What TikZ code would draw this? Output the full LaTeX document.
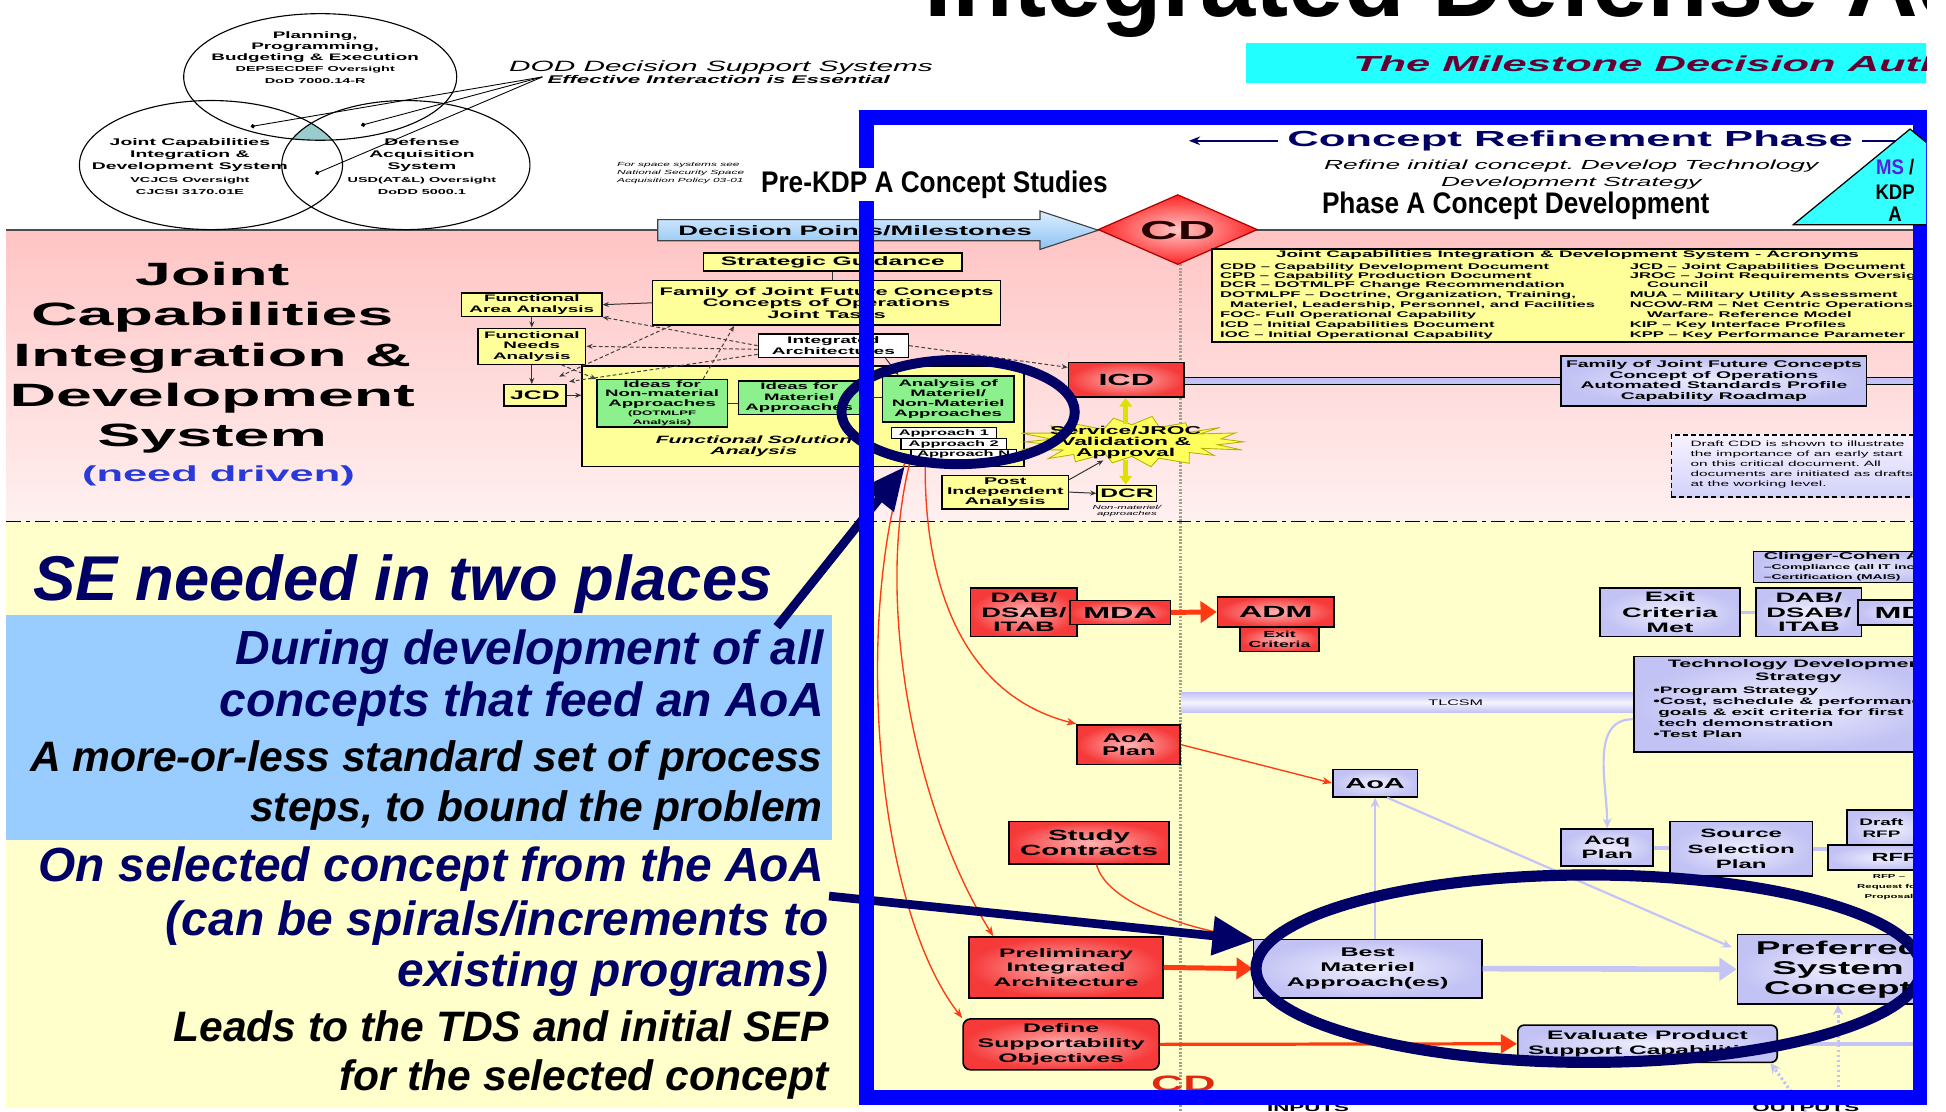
\documentclass[tikz,border=0pt]{standalone}
\usepackage{fontspec}
\setmainfont{Liberation Sans}
\newfontfamily\widefont[FakeStretch=2.0]{Liberation Sans}
\newfontfamily\narrowfont[FakeStretch=0.88]{Liberation Sans}
\usetikzlibrary{arrows.meta,calc}
\newcommand\fz[2]{\fontsize{#1}{#2}\selectfont}

\definecolor{navy}{HTML}{000066}
\definecolor{frameblue}{HTML}{0000FF}
\definecolor{pinktop}{HTML}{FFC4C4}
\definecolor{pinkbot}{HTML}{FFF0F0}
\definecolor{paleyel}{HTML}{FFFFCC}
\definecolor{skyb}{HTML}{99CCFF}
\definecolor{boxyel}{HTML}{FFFF99}
\definecolor{boxgrn}{HTML}{8CF08C}
\definecolor{redout}{HTML}{F63A3A}
\definecolor{redin}{HTML}{FFB4B4}
\definecolor{lavout}{HTML}{C2C2F4}
\definecolor{lavin}{HTML}{EEEEFF}
\definecolor{lavline}{HTML}{C4C4F6}
\definecolor{arrred}{HTML}{FF3A12}
\definecolor{aqua}{HTML}{22FFFF}
\definecolor{kdpcyan}{HTML}{33FFFF}
\definecolor{maroon}{HTML}{660033}
\definecolor{needblue}{HTML}{2A3AD8}
\definecolor{msblue}{HTML}{5522DD}
\definecolor{tealcap}{HTML}{99CCCC}
\definecolor{cdgray}{HTML}{A0A08C}
\definecolor{dptop}{HTML}{DCEEFF}
\definecolor{dpbot}{HTML}{8CC2F2}
\definecolor{cdin}{HTML}{FFC8C8}
\definecolor{cdout}{HTML}{FF2424}
\definecolor{cdedge}{HTML}{B00000}
\definecolor{burstyel}{HTML}{FFFF5C}
\definecolor{burstedge}{HTML}{B4B400}
\definecolor{yelarr}{HTML}{E0E000}
\definecolor{notetop}{HTML}{F6F2FF}
\definecolor{notebot}{HTML}{D2D2FA}
\definecolor{cdred}{HTML}{E02A10}

\begin{document}
\begin{tikzpicture}[x=1pt,y=-1pt,
  sz/.style 2 args={font=\widefont\bfseries\fontsize{#1}{#2}\selectfont},
  szi/.style 2 args={font=\widefont\bfseries\itshape\fontsize{#1}{#2}\selectfont},
  szr/.style 2 args={font=\widefont\fontsize{#1}{#2}\selectfont},
  szri/.style 2 args={font=\widefont\itshape\fontsize{#1}{#2}\selectfont},
  lbl/.style={inner sep=0pt, align=center},
  plainbox/.style={draw=black, line width=1.3pt, inner sep=0pt, align=center},
  redbox/.style={plainbox, inner color=redin, outer color=redout},
  lavbox/.style={plainbox, inner color=lavin, outer color=lavout},
  yelbox/.style={plainbox, line width=1.1pt, fill=boxyel},
  grnbox/.style={plainbox, line width=1.1pt, fill=boxgrn},
  whtbox/.style={plainbox, line width=0.9pt, fill=white},
  jlink/.style={draw=black!80, line width=0.8pt},
  jdash/.style={draw=black!75, line width=0.8pt, dash pattern=on 3pt off 2pt},
  arr/.style={-{Stealth[length=5pt,width=4pt]}},
  vennln/.style={draw=black, line width=0.7pt, -{Circle[length=3.5pt]}},
  redthin/.style={draw=arrred, line width=1.1pt, -{Stealth[length=8pt,width=6pt]}},
  redthick/.style={draw=arrred, line width=4pt, -{Triangle[length=13pt,width=17pt]}},
  redmed/.style={draw=arrred, line width=2.6pt, -{Triangle[length=13pt,width=15pt]}},
  lavthick/.style={draw=lavline, line width=4.5pt, -{Triangle[length=14pt,width=18pt]}},
  lavthin/.style={draw=lavline, line width=1.8pt, -{Stealth[length=8pt,width=7pt]}},
  lavlink/.style={draw=lavline, line width=3pt},
  lavdot/.style={draw=lavline, line width=2.5pt, dash pattern=on 2pt off 2pt, -{Stealth[length=8pt,width=8pt]}},
  yelarrow/.style={draw=yelarr, line width=3.5pt, -{Triangle[length=7pt,width=10pt]}},
  navyarrow/.style={draw=navy, line width=7pt, -{Triangle[length=34pt,width=30pt]}},
  navyring/.style={draw=navy, line width=8pt},
  selin/.style={anchor=base east, inner sep=0pt, font=\bfseries\itshape},
  acr/.style={anchor=base west, inner sep=0pt, sz={6.7}{7.9}},
]
\useasboundingbox (0,0) rectangle (1568,896);
\fill[white] (0,0) rectangle (1568,896);

\begin{scope}
\clip (0,-100) rectangle (1552,900);

% ---------- background bands ----------
\shade[top color=pinktop, bottom color=pinkbot] (5,185.5) rectangle (1552,420);
\fill[paleyel] (5,420) rectangle (1552,884);
\fill[paleyel] (5,884) rectangle (692,893);
\draw[black!70, line width=1.5pt] (5,185.5) -- (1552,185.5);
\draw[black, line width=1.2pt, dash pattern=on 12pt off 4pt on 3pt off 4pt] (5,420) -- (1552,420);
\fill[skyb] (5,495.5) rectangle (670,677);
\draw[cdgray, line width=2.5pt, dash pattern=on 1.5pt off 1.2pt] (951,213) -- (951,896);

% ---------- heading ----------
\node[anchor=base west, inner sep=0pt, font=\bfseries\fontsize{80}{80}\selectfont] (title) at (745,13) {Integrated Defense Acquisition};
\fill[aqua] (1004,35) rectangle (1560,67);
\node[anchor=base west, inner sep=0pt, szi={17.5}{17.5}, text=maroon] (mdaban) at (1090,57.7) {The Milestone Decision Authority};

% ---------- decision support systems ----------
\begin{scope}
  \clip (258,62) ellipse [x radius=110, y radius=51];
  \clip (170,133) ellipse [x radius=106, y radius=52];
  \fill[tealcap] (327,133) ellipse [x radius=100, y radius=52];
\end{scope}
\draw[black, line width=0.9pt] (258,62) ellipse [x radius=110, y radius=51];
\draw[black, line width=0.9pt] (170,133) ellipse [x radius=106, y radius=52];
\draw[black, line width=0.9pt] (327,133) ellipse [x radius=100, y radius=52];
\node[lbl, sz={7.6}{9.1}, anchor=north] (vtop) at (254,25) {Planning,\\Programming,\\Budgeting \& Execution\\\fz{5.8}{9.1}DEPSECDEF Oversight\\\fz{5.8}{9.1}DoD 7000.14-R};
\node[lbl, sz={7.8}{10}, anchor=north] (vleft) at (153,111) {Joint Capabilities\\Integration \&\\Development System\\\fz{5.8}{10}VCJCS Oversight\\\fz{5.8}{10}CJCSI 3170.01E};
\node[lbl, sz={7.8}{10}, anchor=north] (vright) at (340,111) {Defense\\Acquisition\\System\\\fz{5.8}{10}USD(AT\&L) Oversight\\\fz{5.8}{10}DoDD 5000.1};
\node[anchor=base west, inner sep=0pt, szri={12}{12}] (dss) at (410,58) {DOD Decision Support Systems};
\node[anchor=base west, inner sep=0pt, szi={9}{9}] (eie) at (441,67) {Effective Interaction is Essential};
\coordinate (conv) at (437,62);
\coordinate (dot1) at (202,102);
\coordinate (dot2) at (291,101);
\coordinate (dot3) at (254,140);
\draw[vennln] (conv) -- (dot1);
\draw[vennln] (conv) -- (dot2);
\draw[vennln] (conv) -- (dot3);
\node[anchor=north west, inner sep=0pt, align=left, szri={4.8}{6.4}] (nss) at (497,131) {For space systems see\\National Security Space\\Acquisition Policy 03-01};

% ---------- milestones bar ----------
\shadedraw[top color=dptop, bottom color=dpbot, draw=black!75, line width=0.9pt]
  (530,177) -- (838,177) -- (838,170) -- (885,185.5) -- (838,201) -- (838,194) -- (530,194) -- cycle;
\node[lbl, sz={11}{11}] (dpm) at (689,186) {Decision Points/Milestones};
\shadedraw[inner color=cdin, outer color=cdout, draw=cdedge, line width=1pt]
  (885,185) -- (949,157) -- (1013,185) -- (949,213) -- cycle;
\node[lbl, sz={21}{21}, text=black!85!red] (cd) at (949,186) {CD};

% ---------- phase heading ----------
\node[anchor=base west, inner sep=0pt, sz={17.6}{18}, text=navy] (crp) at (1037,118) {Concept Refinement Phase};
\draw[navy, line width=1.3pt, -{Stealth[length=9pt,width=7pt]}] ($(crp.west)+(-7,0)$) -- ++(-72,0);
\draw[navy, line width=1.3pt, -{Stealth[length=9pt,width=7pt]}] ($(crp.east)+(7,0)$) -- ++(40,0);
\node[anchor=north, lbl, szri={10.6}{13.4}] (rtxt) at (1266,129) {Refine initial concept.\enspace Develop Technology\\Development Strategy};
\node[anchor=base west, inner sep=0pt, font=\narrowfont\bfseries\fontsize{24}{24}\selectfont] (phA) at (1065,172.4) {Phase A Concept Development};

% ---------- JCIDS band ----------
\node[lbl, sz={26}{32.5}, anchor=north] (jcids) at (171,211) {Joint\\Capabilities\\Integration \&\\Development\\System};
\node[lbl, sz={17.5}{17.5}, anchor=base, text=needblue] (need) at (176,388) {(need driven)};

\node[yelbox, sz={9.9}{10}, minimum width=208, minimum height=14.5] (sg) at (671,211) {Strategic Guidance};
\node[yelbox, sz={8.8}{9.1}, minimum width=280, minimum height=36] (fam) at (666,244) {Family of Joint Future Concepts\\Concepts of Operations\\Joint Tasks};
\node[yelbox, sz={7.6}{8.8}, minimum width=113, minimum height=19] (faa) at (428.5,245.5) {Functional\\Area Analysis};
\node[yelbox, sz={7.6}{8.4}, minimum width=87, minimum height=29] (fna) at (428.5,279) {Functional\\Needs\\Analysis};
\node[yelbox, sz={10}{10}, minimum width=50, minimum height=17] (jcd) at (431,318.5) {JCD};
\node[whtbox, sz={7.7}{8.6}, line width=1.1pt, minimum width=121, minimum height=19] (ia) at (671.5,278.5) {Integrated\\Architectures};
\node[yelbox, minimum width=356, minimum height=81] (fsa) at (647,335.5) {};
\node[lbl, szi={8.5}{9.2}, anchor=north] (fsal) at (607.5,351) {Functional\enspace Solution\\Analysis};
\node[grnbox, sz={7.5}{7.5}, minimum width=105, minimum height=38] (inm) at (533.5,325) {Ideas for\\Non-material\\Approaches\\\fz{5.3}{7.5}(DOTMLPF\\\fz{5.3}{7.5}Analysis)};
\node[grnbox, sz={7.5}{8.4}, minimum width=98, minimum height=27] (im) at (644,320.5) {Ideas for\\Materiel\\Approaches};
\node[grnbox, sz={7.5}{8.1}, minimum width=106, minimum height=37] (amn) at (764,321.5) {Analysis of\\Materiel/\\Non-Materiel\\Approaches};
\node[whtbox, sz={6.6}{6.6}, minimum width=85, minimum height=8.5] (ap1) at (760.5,349) {Approach 1};
\node[whtbox, sz={6.6}{6.6}, minimum width=85, minimum height=9] (ap2) at (768.5,358) {Approach 2};
\node[whtbox, sz={6.6}{6.6}, minimum width=85, minimum height=8.5] (apn) at (776.5,366.5) {Approach N};

\draw[jlink] (sg.south) -- (sg.south |- fam.north);
\draw[jlink, arr] (fam.west) -- (faa.east);
\draw[jlink, arr] (faa.south) -- (fna.north);
\draw[jlink, arr] (fna.south) -- (fna.south |- jcd.north);
\draw[jlink, arr] (jcd.east) -- (jcd.east -| fsa.west);
\draw[jdash, arr] (ia.west) -- (faa.south east);
\draw[jdash, arr] ($(ia.west)+(0,3)$) -- (fna.east);
\draw[jdash, arr] ($(fam.south west)+(15,0)$) -- ($(jcd.north east)+(-6,-6)$);
\draw[jdash, arr] ($(ia.south west)+(0,-3)$) -- ($(jcd.north east)+(2,-2)$);
\draw[jdash, arr] ($(inm.north)+(33,0)$) -- ($(fam.south west)+(66,0)$);
\draw[jdash, arr] ($(fna.south east)+(-20,0)$) -- (inm.north west);
\draw[jlink, arr] ($(ia.south)+(42,0)$) -- ($(amn.north)+(-40,0)$);
\draw[jlink] (inm.east) -- (inm.east -| im.west);
\draw[jlink] (im.east) -- (im.east -| amn.west);

% ---------- acronyms ----------
\node[draw=black, line width=1.2pt, fill=boxyel, minimum width=576, minimum height=75, anchor=north west, inner sep=0pt] (acro) at (976,200) {};
\node[lbl, sz={7.6}{7.6}, anchor=base] (acrot) at (1263,207.6) {Joint Capabilities Integration \& Development System - Acronyms};
\foreach \yy/\tx [count=\i] in {
  217.5/{CDD – Capability Development Document},
  224.5/{CPD – Capability Production Document},
  232/{DCR – DOTMLPF Change Recommendation},
  240/{DOTMLPF – Doctrine, Organization, Training,},
  248/{\hspace*{8pt}Materiel, Leadership, Personnel, and Facilities},
  256/{FOC- Full Operational Capability},
  263.7/{ICD – Initial Capabilities Document},
  271.8/{IOC – Initial Operational Capability}}
  { \node[acr] (acl\i) at (983,\yy) {\tx}; }
\foreach \yy/\tx [count=\i] in {
  217.5/{JCD – Joint Capabilities Document},
  224.5/{JROC – Joint Requirements Oversight},
  232/{\hspace*{14pt}Council},
  240/{MUA – Military Utility Assessment},
  248/{NCOW-RM – Net Centric Operations and},
  256/{\hspace*{14pt}Warfare- Reference Model},
  263.7/{KIP – Key Interface Profiles},
  271.8/{KPP – Key Performance Parameter}}
  { \node[acr] (acr\i) at (1313,\yy) {\tx}; }

% ---------- ICD row ----------
\draw[fill=lavout, draw=black, line width=0.8pt] (954,304) rectangle (1258,310);
\draw[fill=lavout, draw=black, line width=0.8pt] (1504,304) rectangle (1560,310);
\node[redbox, sz={13}{13}, minimum width=93, minimum height=28] (icd) at (907.5,306) {ICD};
\node[lavbox, sz={7.8}{8.8}, minimum width=246, minimum height=40] (fjfc) at (1381,307) {Family of Joint Future Concepts\\Concept of Operations\\Automated Standards Profile\\Capability Roadmap};
\draw[jdash, arr] (ia.east) -- ($(icd.west)+(0,-10)$);

\node[draw=black, line width=1pt, dash pattern=on 4pt off 2.5pt, top color=notetop, bottom color=notebot, minimum width=206, minimum height=50, anchor=north west, inner sep=0pt] (note) at (1346,350) {};
\foreach \yy/\tx [count=\i] in {
  359.8/{Draft CDD is shown to illustrate},
  368/{the importance of an early start},
  375.7/{on this critical document.\enspace All},
  383.8/{documents are initiated as drafts},
  391.8/{at the working level.}}
  { \node[anchor=base west, inner sep=0pt, szr={6.2}{6.2}] (nt\i) at (1362,\yy) {\tx}; }

% ---------- validation burst ----------
\foreach \k in {0,...,35} {
  \pgfmathsetmacro\rx{90-22*mod(\k,2)+5*sin(\k*97)}
  \pgfmathsetmacro\ry{19-7*mod(\k,2)+2*sin(\k*53)}
  \coordinate (bp\k) at ($(912,356)+({\k*10}:\rx pt and \ry pt)$);
}
\draw[fill=burstyel, draw=burstedge, line width=0.7pt] (bp0) \foreach \k in {1,...,35} { -- (bp\k) } -- cycle;
\node[lbl, sz={9.2}{9}] (burst) at (907,356.5) {Service/JROC\\Validation \&\\Approval};
\node[yelbox, sz={7.9}{8.3}, minimum width=102, minimum height=27] (post) at (810,396.5) {Post\\Independent\\Analysis};
\node[yelbox, sz={9.9}{10}, minimum width=48, minimum height=13] (dcr) at (908,397.5) {DCR};
\node[lbl, szri={4.6}{4.8}] (nma) at (908,411.5) {Non-materiel/\\approaches};
\draw[yelarrow] ($(burst.north)+(0,-1)$) -- (burst.north |- icd.south);
\draw[yelarrow] ($(burst.south)+(0,1)$) -- (burst.south |- dcr.north);
\draw[jlink, arr] (post.east) -- (dcr.west);
\coordinate (bsw) at (889,371);
\draw[jlink, arr] ($(post.north east)+(0,4)$) -- (bsw);

% ---------- concept refinement boxes ----------
\node[redbox, sz={11}{11.7}, minimum width=86, minimum height=39] (dabl) at (825,493.5) {DAB/\\DSAB/\\ITAB};
\node[redbox, sz={13}{13}, minimum width=81, minimum height=19.5] (mdal) at (902.5,493.5) {MDA};
\node[redbox, sz={7.1}{8}, minimum width=64, minimum height=20] (exitc) at (1031,515) {Exit\\Criteria};
\node[redbox, sz={13}{13}, minimum width=94, minimum height=24] (adm) at (1028,493) {ADM};
\node[redbox, sz={10.2}{10.7}, minimum width=83, minimum height=32] (aoaplan) at (909.5,600) {AoA\\Plan};
\node[lavbox, sz={11.7}{11.7}, minimum width=68, minimum height=22] (aoa) at (1108,631) {AoA};
\node[redbox, sz={11.9}{12.1}, minimum width=129, minimum height=34] (study) at (877.5,679) {Study\\Contracts};
\node[redbox, sz={9.9}{11.8}, minimum width=156, minimum height=49] (prelim) at (859,779.5) {Preliminary\\Integrated\\Architecture};
\node[redbox, sz={10}{12.3}, rounded corners=6pt, minimum width=158, minimum height=41] (dso) at (855,841.5) {Define\\Supportability\\Objectives};
\node[lavbox, sz={10.1}{12}, minimum width=184, minimum height=47] (bma) at (1102,780.5) {Best\\Materiel\\Approach(es)};
\node[lavbox, sz={14.9}{16.1}, minimum width=162, minimum height=56] (psc) at (1481,781) {Preferred\\System\\Concept};
\node[lavbox, sz={9.9}{11.6}, rounded corners=5pt, minimum width=209, minimum height=30] (epsc) at (1327.5,841) {Evaluate Product\\Support Capabilities};

\shade[top color=lavout, bottom color=lavout, middle color=lavin!60!white] (952,558) rectangle (1319,574);
\node[inner sep=0pt, szr={6.5}{6.5}] (tlcsm) at (1173,566) {TLCSM};
\node[lavbox, minimum width=245, minimum height=77] (tds) at (1439,567.5) {};
\node[lbl, sz={8.7}{10}, anchor=north] (tdst) at (1449,531.5) {Technology Development\\Strategy};
\node[lbl, sz={7.6}{8.9}, anchor=north west, align=left] (tdsb) at (1332,553.5) {•Program Strategy\\•Cost, schedule \& performance\\\hspace*{4pt}goals \& exit criteria for first\\\hspace*{4pt}tech demonstration\\•Test Plan};

\node[lavbox, sz={11}{12.5}, minimum width=113, minimum height=39] (ecm) at (1345.5,493.5) {Exit\\Criteria\\Met};
\node[lavbox, sz={11}{11.7}, minimum width=85, minimum height=39] (dabr) at (1457.5,493.5) {DAB/\\DSAB/\\ITAB};
\node[lavbox, sz={13}{13}, minimum width=86, minimum height=20] (mdar) at (1540,493.5) {MDA};
\draw[lavlink] (ecm.east) -- (dabr.west);
\node[lavbox, minimum width=154, minimum height=25] (cca) at (1490,457) {};
\node[lbl, sz={8}{8}, anchor=base west] (ccat) at (1421,451) {Clinger-Cohen Act};
\node[lbl, sz={5.6}{5.6}, anchor=base west] (cca1) at (1421,459) {–Compliance (all IT incl. NSS)};
\node[lbl, sz={5.6}{5.6}, anchor=base west] (cca2) at (1421,466.8) {–Certification (MAIS)};

\node[lavbox, sz={9.8}{11}, minimum width=74, minimum height=30] (acq) at (1295,683) {Acq\\Plan};
\node[lavbox, sz={9.7}{12.4}, minimum width=115, minimum height=44] (ssp) at (1403,684) {Source\\Selection\\Plan};
\node[lavbox, minimum width=72, minimum height=31] (drfp) at (1524,668) {};
\node[lbl, sz={7.6}{9.5}] (drfpt) at (1516,667) {Draft\\RFP};
\node[lavbox, minimum width=87, minimum height=20] (rfp) at (1516.5,691) {};
\node[lbl, sz={9.5}{9.5}] (rfpt) at (1527,691) {RFP};
\node[lbl, sz={4.6}{8}] (rfpn) at (1522,715) {RFP –\\Request for\\Proposal};
\draw[lavlink] (acq.east) -- (acq.east -| ssp.west);
\draw[lavlink] (ssp.east) -- (ssp.east -| rfp.west);

% ---------- connectors ----------
\draw[redthick] (mdal.east) -- (adm.west);
\draw[redthin] (aoaplan.east) -- (aoa.west);
\draw[redthick] (prelim.east) -- (bma.west);
\draw[redmed] (dso.east) -- (epsc.west);
\draw[redthin] ($(study.south)+(6,0)$) .. controls (892,728) and (955,748) .. (bma.north west);
\draw[redthin] ($(apn.south west)+(12,0)$) .. controls (744,470) and (775,560) .. (aoaplan.north west);
\draw[redthin] (apn.south west) .. controls (705,480) and (735,650) .. ($(prelim.north west)+(20,0)$);
\draw[redthin] ($(apn.south west)+(-4,0)$) .. controls (688,500) and (705,730) .. (dso.north west);

\draw[lavthick] (bma.east) -- (psc.west);
\draw[lavthin] (aoa.south |- bma.north) -- (aoa.south);
\draw[lavthin] ($(aoa.south east)+(-25,0)$) -- ($(psc.north west)+(-4,11)$);
\draw[lavthin] ($(tds.west)+(0,12)$) to[out=180,in=90] (acq.north);
\coordinate (erx) at (1560,841);
\draw[lavlink] (epsc.east) -- (erx);
\coordinate (pin1) at (1481,896);
\coordinate (pin2) at (1455,896);
\draw[lavdot] (pin1) -- (psc.south);
\draw[lavdot] (pin2) -- ($(epsc.south east)+(-6,0)$);

\node[anchor=north, inner sep=0pt, sz={18}{18}, text=cdred] (cdlow) at (953.5,867) {CD};
\node[anchor=north, inner sep=0pt, sz={9}{9}] (inp) at (1054,889.5) {INPUTS};
\node[anchor=north, inner sep=0pt, sz={9}{9}] (outp) at (1455,889.5) {OUTPUTS};

% ---------- systems engineering notes ----------
\node[anchor=base west, inner sep=0pt, text=navy, font=\bfseries\itshape\fontsize{51}{51}\selectfont] (se) at (27,483.5) {SE needed in two places};
\node[selin, text=navy] (l1) at (664,535.8) {\fz{38.6}{38}During development of all};
\node[selin, text=navy] (l2) at (664,577.5) {\fz{38.6}{38}concepts that feed an AoA};
\node[selin] (l3) at (663,621.8) {\fz{34.3}{34}A more-or-less standard set of process};
\node[selin] (l4) at (663,662) {\fz{34.3}{34}steps, to bound the problem};
\node[selin, text=navy] (l5) at (664,710.4) {\fz{38.6}{38}On selected concept from the AoA};
\node[selin, text=navy] (l6) at (668,753.4) {\fz{38.6}{38}(can be spirals/increments to};
\node[selin, text=navy] (l7) at (668,795) {\fz{38.6}{38}existing programs)};
\node[selin] (l8) at (668,839.3) {\fz{34.3}{34}Leads to the TDS and initial SEP};
\node[selin] (l9) at (668,878.3) {\fz{34.3}{34}for the selected concept};

\draw[navyring] (772,332) ellipse [x radius=94, y radius=42];
\draw[navyring, line width=9pt] (1280,780.5) ellipse [x radius=268, y radius=75.5];
\coordinate (a1s) at (626,505);
\coordinate (a1t) at (729,376);
\coordinate (a2s) at (668,722);
\coordinate (a2t) at (1011,757.5);
\draw[navyarrow] (a1s) -- (a1t);
\draw[navyarrow] (a2s) -- (a2t);
\end{scope}

% ---------- phase frame ----------
\draw[frameblue, line width=12pt] (698,94.6) rectangle (1547,884);

\node[anchor=base west, inner xsep=1pt, inner ysep=2pt, fill=white, font=\narrowfont\bfseries\fontsize{24}{24}\selectfont] (prekdp) at (612,155) {Pre-KDP A Concept Studies};

\begin{scope}
\clip (0,0) rectangle (1552,896);
\filldraw[fill=kdpcyan, draw=black, line width=1pt] (1445,181) -- (1539,104) -- (1633,181) -- cycle;
\node[anchor=base, inner sep=0pt, font=\narrowfont\bfseries\fontsize{17}{17}\selectfont] (ms) at (1527,141) {\textcolor{msblue}{MS} /};
\node[anchor=base, inner sep=0pt, font=\narrowfont\bfseries\fontsize{17}{17}\selectfont] (kdp) at (1527,161) {KDP};
\node[anchor=base, inner sep=0pt, font=\narrowfont\bfseries\fontsize{17}{17}\selectfont] (kda) at (1527,178.6) {A};
\end{scope}
\end{tikzpicture}
\end{document}
